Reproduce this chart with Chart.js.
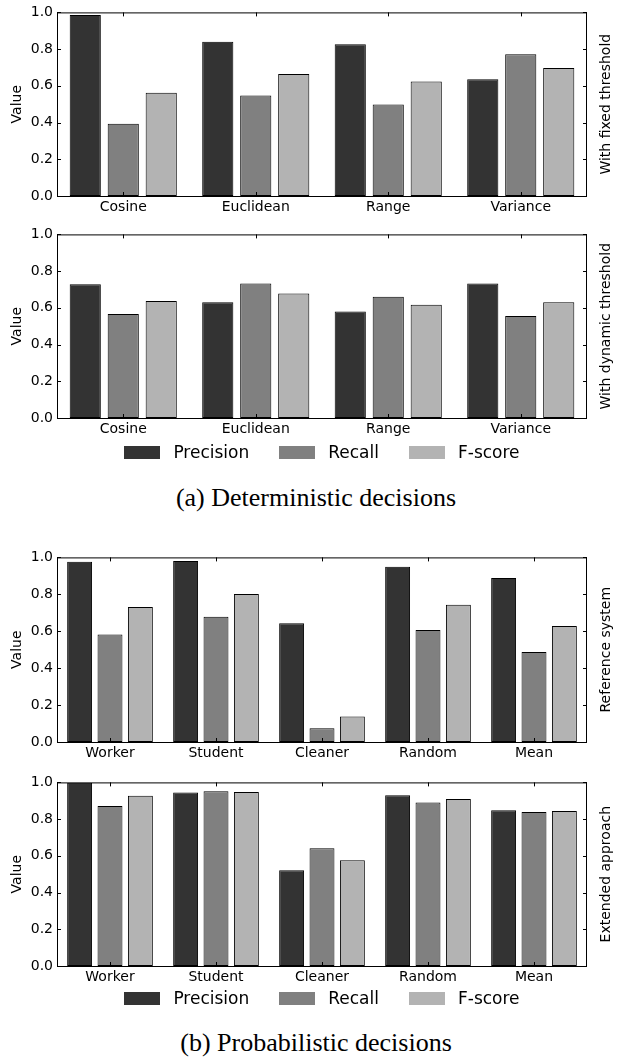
<!DOCTYPE html>
<html>
<head>
<meta charset="utf-8">
<script src="https://cdn.jsdelivr.net/npm/chart.js@4.4.0/dist/chart.umd.min.js"></script>
<style>
  body { margin: 0; background: #fff; }
  #page { position: relative; width: 624px; height: 1057px; overflow: hidden; }
  #page canvas { position: absolute; left: 0; }
  .legend { position: absolute; left: 57px; width: 530px; height: 20px; display: flex;
            justify-content: center; align-items: center; font: 17px "DejaVu Sans"; color: #000; }
  .legend .item { display: flex; align-items: center; margin-right: 30px; }
  .legend .item:last-child { margin-right: 0; }
  .legend .box { width: 36px; height: 13px; margin-right: 13px; }
  .caption { position: absolute; left: 0; width: 632px; text-align: center;
             font: 26px "Liberation Serif"; color: #000; line-height: 30px; }
</style>
</head>
<body>
<div id="page">
  <canvas id="fixedChart" width="624" height="222" style="top:0px"></canvas>
  <canvas id="dynamicChart" width="624" height="222" style="top:222px"></canvas>
  <div class="legend" id="legendA" style="top:442px"></div>
  <div class="caption" style="top:483px">(a) Deterministic decisions</div>
  <canvas id="refChart" width="624" height="223" style="top:545px"></canvas>
  <canvas id="extChart" width="624" height="222" style="top:770px"></canvas>
  <div class="legend" id="legendB" style="top:988px"></div>
  <div class="caption" style="top:1028px">(b) Probabilistic decisions</div>
</div>
<script>
// kategorije i serije
const distanceMeasures = ['Cosine', 'Euclidean', 'Range', 'Variance'];
const userProfiles = ['Worker', 'Student', 'Cleaner', 'Random', 'Mean'];
const metricNames = ['Precision', 'Recall', 'F-score'];
const metricColors = ['#333333', '#808080', '#b3b3b3'];

// (a) fiksni prag
const fixedPrecision = [0.986, 0.840, 0.826, 0.636];
const fixedRecall = [0.393, 0.548, 0.499, 0.772];
const fixedFscore = [0.562, 0.664, 0.623, 0.697];

// (a) dinamicki prag
const dynamicPrecision = [0.728, 0.630, 0.580, 0.732];
const dynamicRecall = [0.567, 0.732, 0.660, 0.556];
const dynamicFscore = [0.637, 0.678, 0.617, 0.630];

// (b) referentni sustav
const refPrecision = [0.977, 0.980, 0.643, 0.950, 0.889];
const refRecall = [0.583, 0.679, 0.075, 0.607, 0.488];
const refFscore = [0.731, 0.802, 0.138, 0.743, 0.628];

// (b) prosireni pristup
const extPrecision = [0.998, 0.945, 0.522, 0.930, 0.848];
const extRecall = [0.871, 0.952, 0.642, 0.891, 0.839];
const extFscore = [0.927, 0.948, 0.576, 0.909, 0.844];

const PLOT_LEFT = 57;
const PLOT_RIGHT = 587;

// okvir, unutarnje crtice i desni naslov
const framePlugin = {
    id: 'frameTicks',
    afterDatasetsDraw(chart, args, opts) {
        const { ctx, chartArea: a, scales: { x, y } } = chart;
        ctx.save();
        ctx.strokeStyle = '#000';
        ctx.lineWidth = 1;
        ctx.beginPath();
        y.ticks.forEach(t => {
            const py = Math.round(y.getPixelForValue(t.value)) + 0.5;
            ctx.moveTo(a.left, py); ctx.lineTo(a.left + 4, py);
            ctx.moveTo(a.right, py); ctx.lineTo(a.right - 4, py);
        });
        chart.data.labels.forEach((l, i) => {
            const px = Math.round(x.getPixelForValue(i)) + 0.5;
            ctx.moveTo(px, a.top); ctx.lineTo(px, a.top + 4);
            ctx.moveTo(px, a.bottom); ctx.lineTo(px, a.bottom - 4);
        });
        ctx.stroke();
        ctx.strokeRect(a.left + 0.5, a.top + 0.5, a.right - a.left - 1, a.bottom - a.top);

        if (opts.sideTitle) {
            ctx.translate(606, (a.top + a.bottom) / 2);
            ctx.rotate(-Math.PI / 2);
            ctx.fillStyle = '#000';
            ctx.font = '14px "DejaVu Sans"';
            ctx.textAlign = 'center';
            ctx.textBaseline = 'middle';
            ctx.fillText(opts.sideTitle, 0, 0);
        }
        ctx.restore();
    }
};

// HTML legenda iz podataka grafa
const htmlLegend = {
    id: 'htmlLegend',
    afterUpdate(chart, args, opts) {
        if (!opts.containerId) return;
        const box = document.getElementById(opts.containerId);
        box.innerHTML = '';
        chart.options.plugins.legend.labels.generateLabels(chart).forEach(item => {
            const el = document.createElement('div');
            el.className = 'item';
            const sw = document.createElement('span');
            sw.className = 'box';
            sw.style.background = item.fillStyle;
            const txt = document.createElement('span');
            txt.textContent = item.text;
            el.appendChild(sw);
            el.appendChild(txt);
            box.appendChild(el);
        });
    }
};

function makePanel(canvasId, labels, series, sideTitle, canvasTop, plotTop, plotBottom, legendId) {
    const canvas = document.getElementById(canvasId);
    const xHeight = canvas.height - (plotBottom - canvasTop);
    return new Chart(canvas.getContext('2d'), {
        type: 'bar',
        data: {
            labels: labels,
            datasets: series.map((values, i) => ({
                label: metricNames[i],
                data: values,
                backgroundColor: metricColors[i],
                borderColor: '#000',
                borderWidth: 1,
                borderSkipped: false,
                categoryPercentage: 0.86,
                barPercentage: 0.82
            }))
        },
        options: {
            responsive: false,
            animation: false,
            devicePixelRatio: 1,
            layout: { padding: { top: plotTop - canvasTop, left: 0, right: 624 - PLOT_RIGHT, bottom: 0 } },
            scales: {
                x: {
                    grid: { display: false, drawTicks: false },
                    border: { display: false },
                    ticks: { color: '#000', font: { family: 'DejaVu Sans', size: 14 }, padding: 3, maxRotation: 0 },
                    afterFit: s => { s.height = xHeight; }
                },
                y: {
                    min: 0, max: 1,
                    grid: { display: false, drawTicks: false },
                    border: { display: false },
                    ticks: { stepSize: 0.2, color: '#000', font: { family: 'DejaVu Sans', size: 14 }, padding: 4,
                             callback: v => v.toFixed(1) },
                    title: { display: true, text: 'Value', color: '#000', font: { family: 'DejaVu Sans', size: 14 },
                             padding: { top: 9, bottom: 0 } },
                    afterFit: s => { s.width = PLOT_LEFT; }
                }
            },
            plugins: {
                legend: { display: false },
                tooltip: { enabled: false },
                frameTicks: { sideTitle: sideTitle },
                htmlLegend: { containerId: legendId }
            }
        },
        plugins: [framePlugin, htmlLegend]
    });
}

document.addEventListener('DOMContentLoaded', () => {
    makePanel('fixedChart', distanceMeasures, [fixedPrecision, fixedRecall, fixedFscore],
        'With fixed threshold', 0, 10, 196, null);
    makePanel('dynamicChart', distanceMeasures, [dynamicPrecision, dynamicRecall, dynamicFscore],
        'With dynamic threshold', 222, 233, 418, 'legendA');
    makePanel('refChart', userProfiles, [refPrecision, refRecall, refFscore],
        'Reference system', 545, 556, 742, null);
    makePanel('extChart', userProfiles, [extPrecision, extRecall, extFscore],
        'Extended approach', 770, 780, 966, 'legendB');
});
</script>
</body>
</html>
